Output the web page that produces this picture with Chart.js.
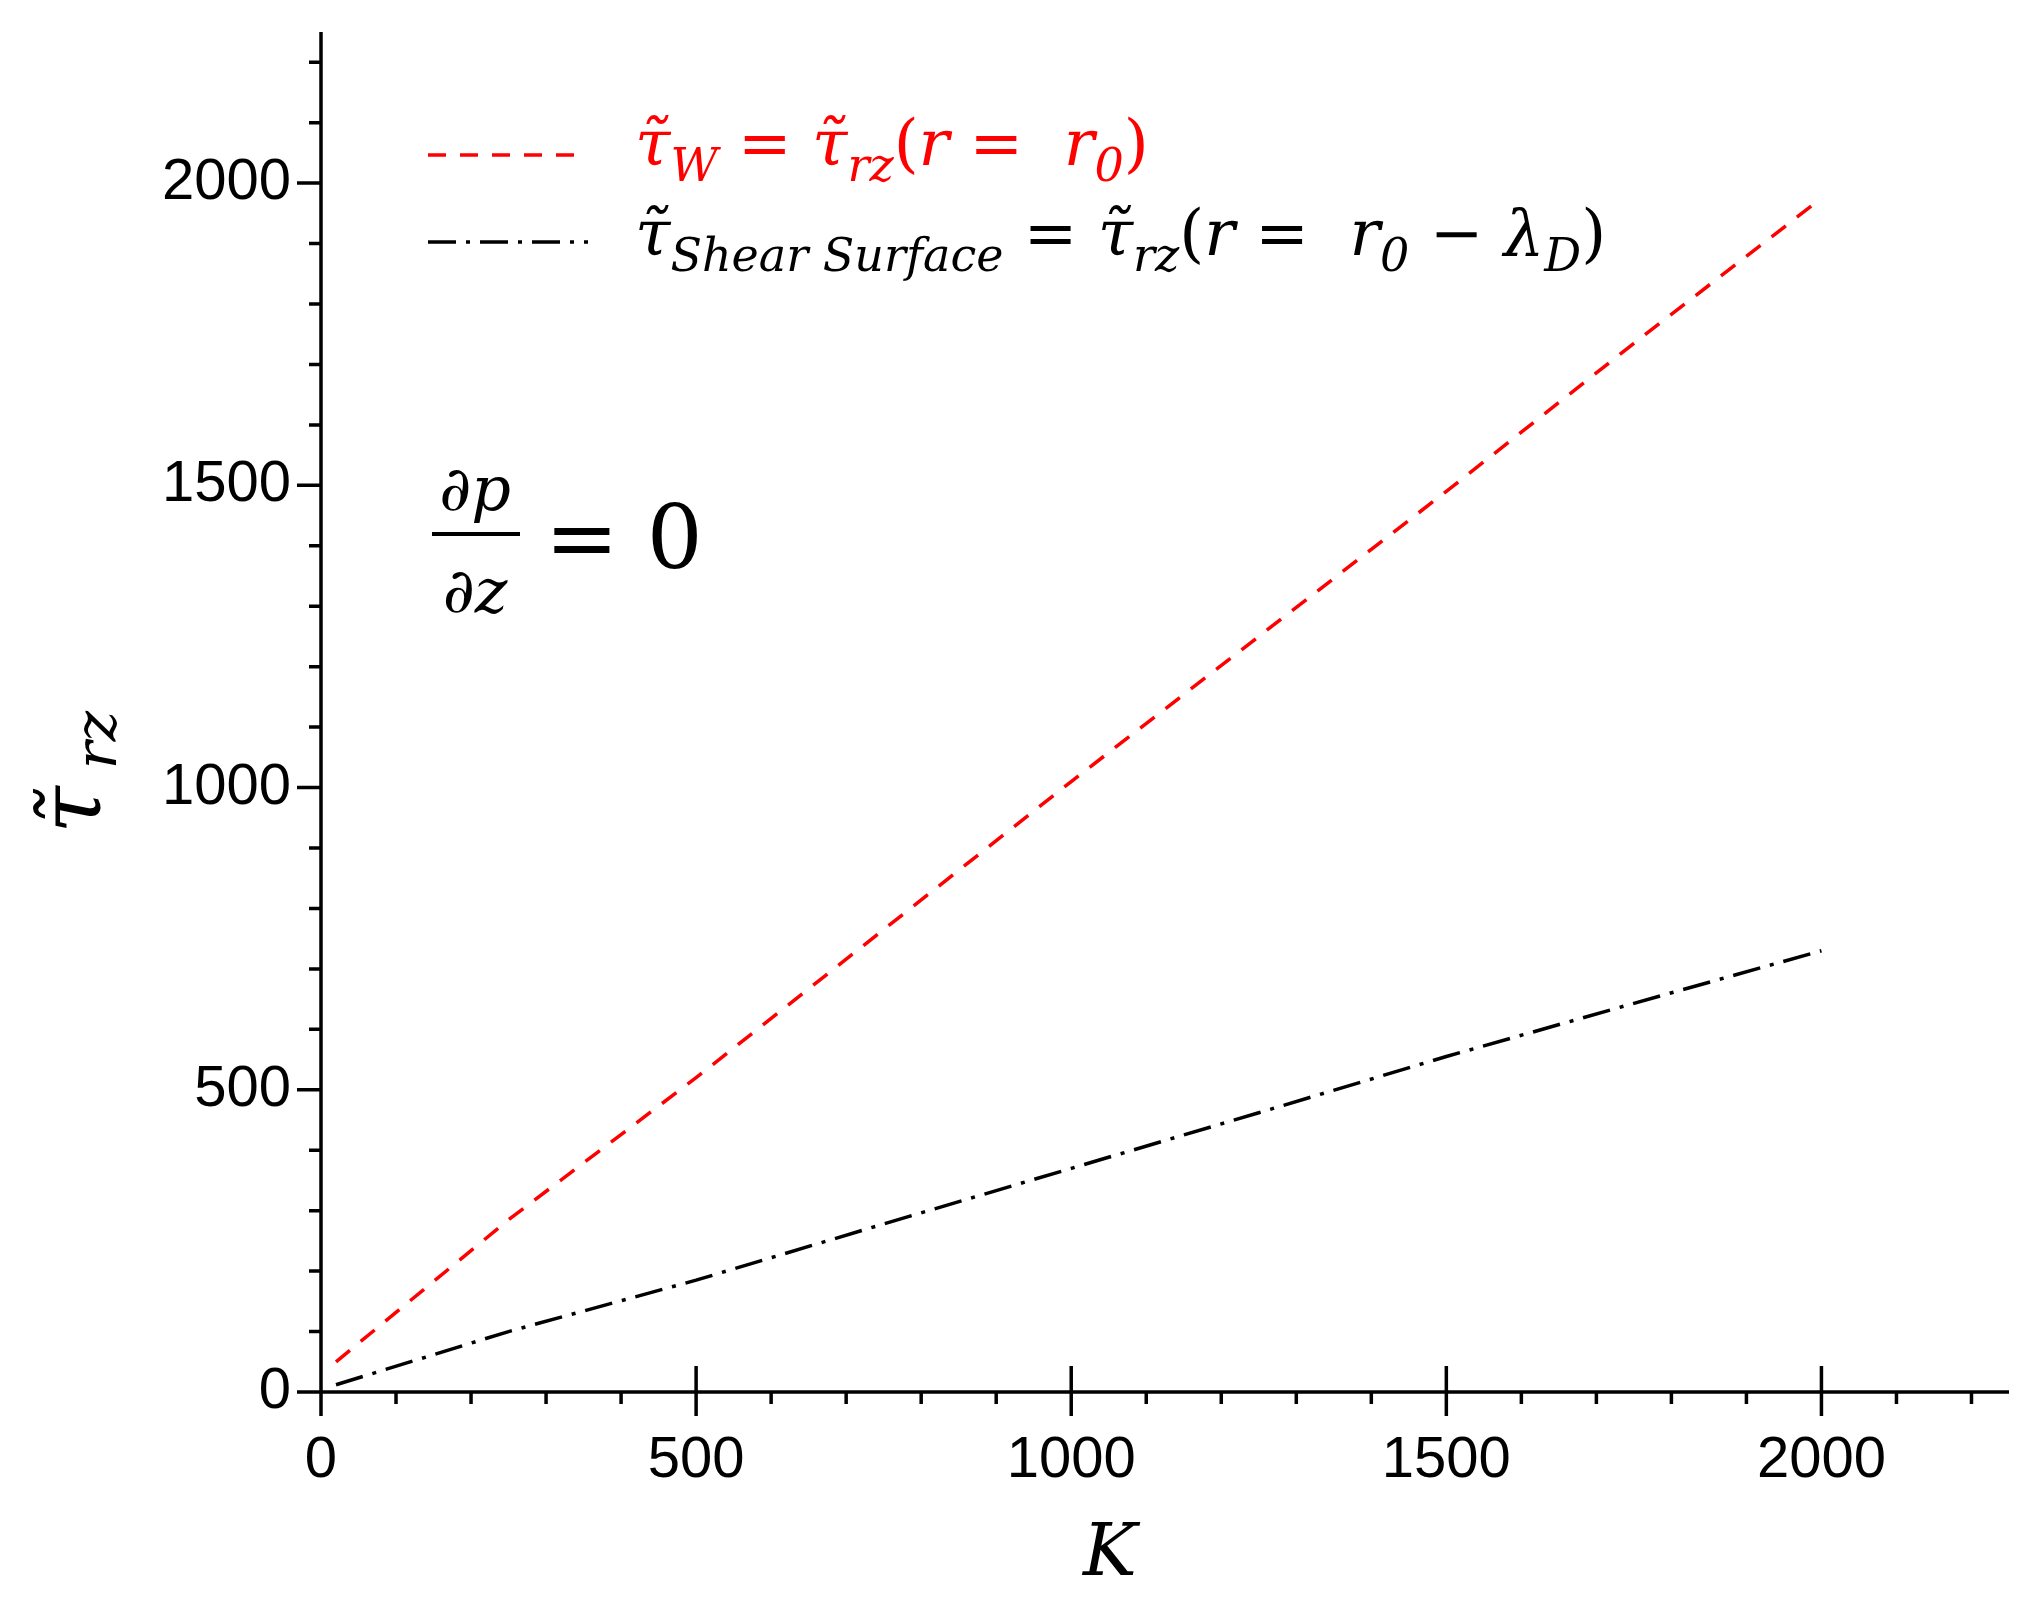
<!DOCTYPE html>
<html><head><meta charset="utf-8">
<script src="https://cdn.jsdelivr.net/npm/chart.js@4"></script>
<style>html,body{margin:0;background:#fff}#w{width:2034px;height:1610px}</style>
</head><body><div id="w"><canvas id="c"></canvas></div>
<script>
const kValues = [20, 250, 500, 750, 1000, 1250, 1500, 1750, 2000];
const tauWall = [50, 285, 520, 765, 1010, 1250, 1490, 1735, 1975];
const tauShear = [12, 100, 185, 278, 370, 462, 555, 643, 730];
const xTicks = [0, 500, 1000, 1500, 2000];
const yTicks = [0, 500, 1000, 1500, 2000];

const axesPlugin = {
  id: 'axesDraw',
  afterDraw(chart) {
    const ctx = chart.ctx, x = chart.scales.x, y = chart.scales.y, a = chart.chartArea;
    const x0 = x.getPixelForValue(0), y0 = y.getPixelForValue(0);
    ctx.save();
    ctx.strokeStyle = '#000'; ctx.lineWidth = 3.5;
    ctx.beginPath();
    ctx.moveTo(x0, a.top); ctx.lineTo(x0, y0 + 24);
    ctx.moveTo(x0 - 24, y0); ctx.lineTo(a.right, y0);
    for (let v = 100; v <= 2200; v += 100) {
      const px = x.getPixelForValue(v);
      if (v % 500 === 0) { ctx.moveTo(px, y0 - 26); ctx.lineTo(px, y0 + 24); }
      else { ctx.moveTo(px, y0); ctx.lineTo(px, y0 + 12); }
      const py = y.getPixelForValue(v);
      if (v % 500 === 0) { ctx.moveTo(x0 - 24, py); ctx.lineTo(x0, py); }
      else { ctx.moveTo(x0 - 12, py); ctx.lineTo(x0, py); }
    }
    ctx.stroke();
    ctx.fillStyle = '#000';
    ctx.font = '58px "Liberation Sans", Arial';
    ctx.textAlign = 'center'; ctx.textBaseline = 'top';
    xTicks.forEach(v => ctx.fillText(String(v), x.getPixelForValue(v), y0 + 40));
    ctx.textAlign = 'right'; ctx.textBaseline = 'middle';
    yTicks.forEach(v => ctx.fillText(String(v), x0 - 30, y.getPixelForValue(v)));
    // axis titles
    ctx.font = 'italic 72px "DejaVu Serif", serif';
    ctx.textAlign = 'center'; ctx.textBaseline = 'alphabetic';
    ctx.fillText('K', 1110, 1575);
    ctx.save();
    ctx.translate(100, 780); ctx.rotate(-Math.PI / 2);
    ctx.font = 'italic 86px "DejaVu Serif", serif';
    ctx.fillText('τ̃', -30, 0);
    ctx.font = 'italic 58px "DejaVu Serif", serif';
    ctx.fillText('rz', 40, 16);
    ctx.restore();
    // legend
    function seg(xx, yy, col, dash) {
      ctx.save(); ctx.strokeStyle = col; ctx.lineWidth = 3.5; ctx.setLineDash(dash);
      ctx.beginPath(); ctx.moveTo(xx, yy); ctx.lineTo(xx + 160, yy); ctx.stroke(); ctx.restore();
    }
    function rich(parts, xx, yy, col) {
      ctx.fillStyle = col; ctx.textAlign = 'left'; ctx.textBaseline = 'alphabetic';
      let cx = xx;
      parts.forEach(([t, sub]) => {
        ctx.font = sub ? 'italic 46px "DejaVu Serif", serif' : (/^[()=\-−0 ]+$/.test(t) ? '64px "DejaVu Serif", serif' : 'italic 64px "DejaVu Serif", serif');
        ctx.fillText(t, cx, yy + (sub ? 16 : 0));
        cx += ctx.measureText(t).width;
      });
    }
    seg(428, 155, '#ff0000', [18, 14]);
    rich([['τ̃',0],['W',1],[' = ',0],['τ̃',0],['rz',1],['(',0],['r',0],[' =  ',0],['r',0],['0',1],[')',0]], 635, 165, '#ff0000');
    seg(428, 242, '#000', [28, 10, 4, 10]);
    rich([['τ̃',0],['Shear Surface',1],[' = ',0],['τ̃',0],['rz',1],['(',0],['r',0],[' =  ',0],['r',0],['0',1],[' − ',0],['λ',0],['D',1],[')',0]], 635, 255, '#000');
    // dp/dz = 0
    ctx.fillStyle = '#000'; ctx.textAlign = 'center';
    ctx.font = 'italic 62px "DejaVu Serif", serif';
    ctx.fillText('∂p', 475, 510);
    ctx.fillText('∂z', 475, 612);
    ctx.fillRect(432, 532, 88, 4);
    ctx.font = '88px "DejaVu Serif", serif';
    ctx.textAlign = 'left';
    ctx.fillText('= 0', 545, 568);
    ctx.restore();
  }
};

new Chart(document.getElementById('c'), {
  type: 'scatter',
  data: { datasets: [
    { data: kValues.map((k, i) => ({x: k, y: tauWall[i]})), showLine: true, borderColor: '#ff0000', borderWidth: 3.5, borderDash: [18, 14], pointRadius: 0 },
    { data: kValues.map((k, i) => ({x: k, y: tauShear[i]})), showLine: true, borderColor: '#000', borderWidth: 3.5, borderDash: [28, 10, 4, 10], pointRadius: 0 }
  ]},
  options: {
    responsive: true, maintainAspectRatio: false, animation: false,
    layout: { padding: { left: 321, right: 25, top: 32, bottom: 218 } },
    plugins: { legend: { display: false }, tooltip: { enabled: false } },
    scales: {
      x: { type: 'linear', min: 0, max: 2250, display: false },
      y: { type: 'linear', min: 0, max: 2250, display: false }
    }
  },
  plugins: [axesPlugin]
});
</script></body></html>
